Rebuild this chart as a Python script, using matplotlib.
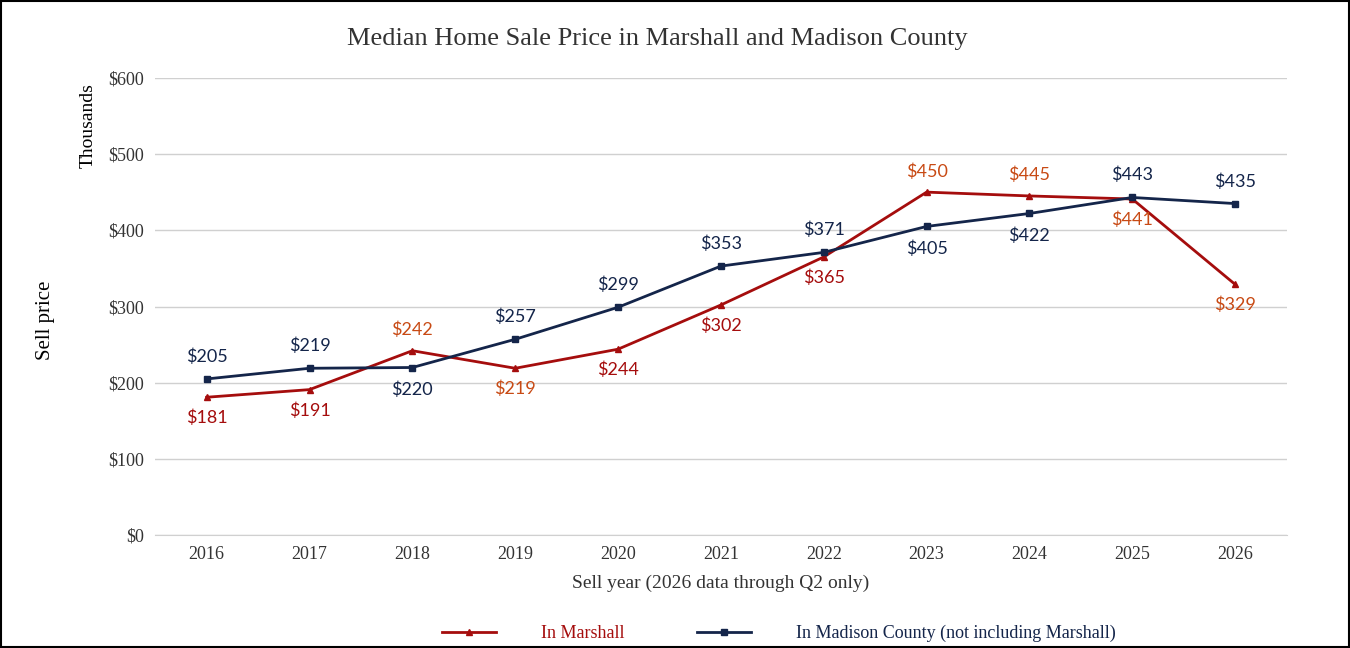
import matplotlib.pyplot as plt
from matplotlib.patches import Rectangle

years = [2016, 2017, 2018, 2019, 2020, 2021, 2022, 2023, 2024, 2025, 2026]
marshall = [181, 191, 242, 219, 244, 302, 365, 450, 445, 441, 329]
madison = [205, 219, 220, 257, 299, 353, 371, 405, 422, 443, 435]
# label placement: +1 above, -1 below
marshall_pos = [-1, -1, 1, -1, -1, -1, -1, 1, 1, -1, -1]
madison_pos = [1, 1, -1, 1, 1, 1, 1, -1, -1, 1, 1]
orange_idx = [2, 3, 7, 8, 9, 10]

red = '#A50D0D'
orange = '#C84A14'
navy = '#14254A'
serif = 'Liberation Serif'
lab_font = 'Lato'

fig = plt.figure(figsize=(13.5, 6.48), dpi=100)
ax = fig.add_axes([0.115, 0.174, 0.838, 0.706])

ax.plot(years, marshall, color=red, lw=2, marker='^', ms=4, label='In Marshall', zorder=3)
ax.plot(years, madison, color=navy, lw=2, marker='s', ms=4,
        label='In Madison County (not including Marshall)', zorder=3)

for i, (x, v) in enumerate(zip(years, marshall)):
    c = orange if i in orange_idx else red
    ax.annotate('${}'.format(v), (x, v), xytext=(0, 15 * marshall_pos[i]), textcoords='offset points',
                ha='center', va='center', color=c, fontsize=13, family=lab_font)
for i, (x, v) in enumerate(zip(years, madison)):
    ax.annotate('${}'.format(v), (x, v), xytext=(0, 16 * madison_pos[i]), textcoords='offset points',
                ha='center', va='center', color=navy, fontsize=13, family=lab_font)

ax.set_xlim(2015.5, 2026.5)
ax.set_ylim(0, 600)
ax.set_xticks(years)
ax.set_xticklabels([str(y) for y in years], family=serif, fontsize=13)
ax.set_yticks(range(0, 601, 100))
ax.set_yticklabels(['${}'.format(v) for v in range(0, 601, 100)], family=serif, fontsize=13)
ax.grid(axis='y', color='#D0D0D0', lw=1)
ax.set_axisbelow(True)
for s in ['top', 'right', 'left']:
    ax.spines[s].set_visible(False)
ax.spines['bottom'].set_color('#D0D0D0')
ax.tick_params(length=0, pad=8, colors='#333333')

fig.text(0.487, 0.94, 'Median Home Sale Price in Marshall and Madison County', family=serif, fontsize=19,
         color='#333333', ha='center', va='center')
ax.set_xlabel('Sell year (2026 data through Q2 only)', family=serif, fontsize=14, color='#333333', labelpad=8)
fig.text(0.034, 0.505, 'Sell price', rotation=90, ha='center', va='center', family=serif, fontsize=15)
fig.text(0.065, 0.807, 'Thousands', rotation=90, ha='center', va='center', family=serif, fontsize=14)

leg = fig.legend(loc='center', bbox_to_anchor=(0.577, 0.022), ncol=2, frameon=False,
                 prop={'family': serif, 'size': 13}, handlelength=3, columnspacing=4, handletextpad=2.5)
for t, c in zip(leg.get_texts(), [red, navy]):
    t.set_color(c)

fig.add_artist(Rectangle((0.001, 0.002), 0.998, 0.996, transform=fig.transFigure,
                         fill=False, ec='black', lw=1.5))
fig.savefig('out.png', dpi=100)
